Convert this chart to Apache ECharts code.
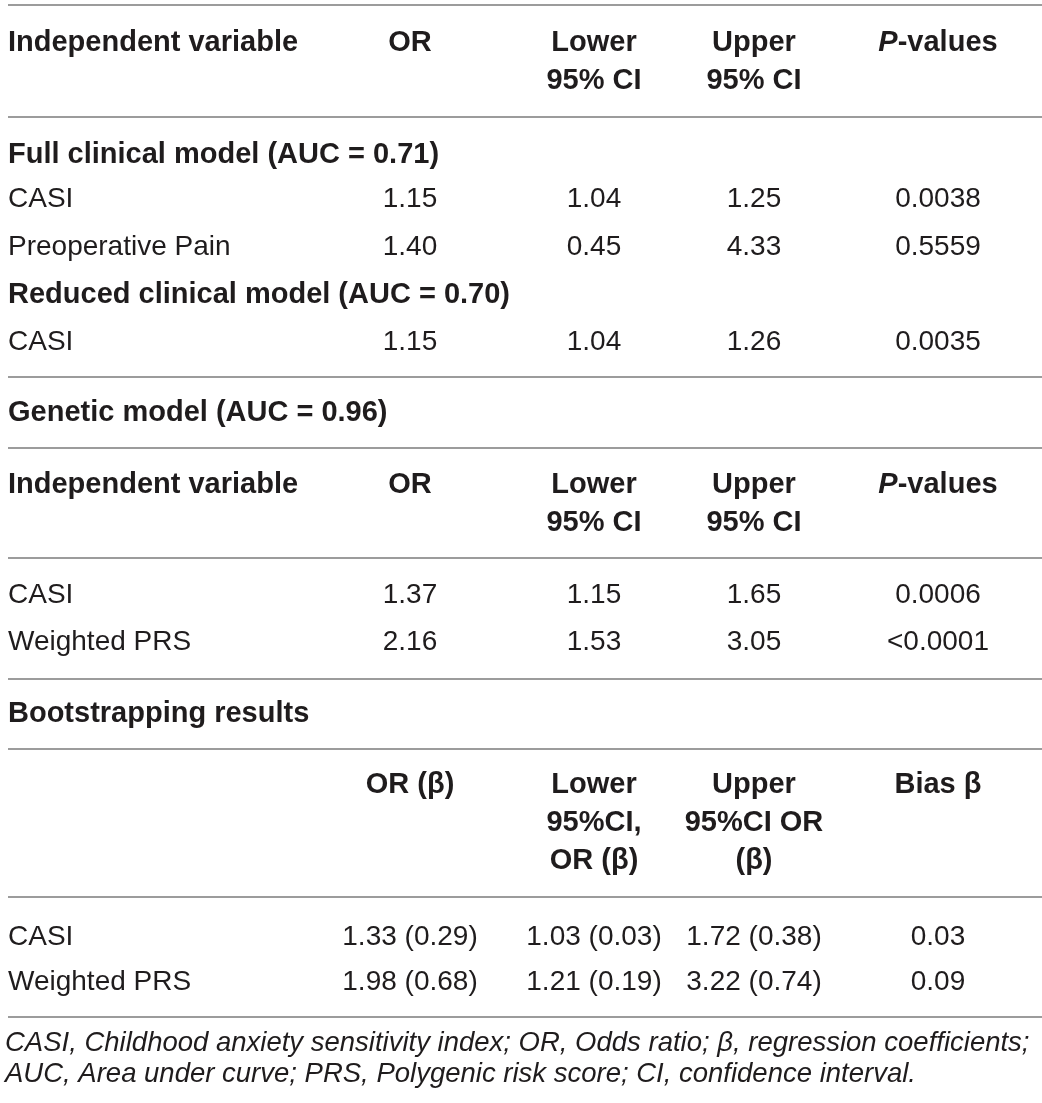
<!DOCTYPE html>
<html>
<head>
<meta charset="utf-8">
<script src="https://cdn.jsdelivr.net/npm/echarts@6/dist/echarts.min.js"></script>
<style>
  html, body { margin: 0; padding: 0; background: #fff; }
  #main { width: 1042px; height: 1103px; }
</style>
</head>
<body>
<div id="main"></div>
<script>
// ---- table data ----
const headerCols = ['Independent variable', 'OR', 'Lower\n95% CI', 'Upper\n95% CI', '{pi|P}-values'];

const fullTitle = 'Full clinical model (AUC = 0.71)';
const fullVars = ['CASI', 'Preoperative Pain'];
const fullOR = [1.15, 1.40];
const fullLower = [1.04, 0.45];
const fullUpper = [1.25, 4.33];
const fullP = ['0.0038', '0.5559'];

const reducedTitle = 'Reduced clinical model (AUC = 0.70)';
const reducedVars = ['CASI'];
const reducedOR = [1.15];
const reducedLower = [1.04];
const reducedUpper = [1.26];
const reducedP = ['0.0035'];

const geneticTitle = 'Genetic model (AUC = 0.96)';
const geneticVars = ['CASI', 'Weighted PRS'];
const geneticOR = [1.37, 2.16];
const geneticLower = [1.15, 1.53];
const geneticUpper = [1.65, 3.05];
const geneticP = ['0.0006', '<0.0001'];

const bootTitle = 'Bootstrapping results';
const bootHeader = ['', 'OR (β)', 'Lower\n95%CI,\nOR (β)', 'Upper\n95%CI OR\n(β)', 'Bias β'];
const bootVars = ['CASI', 'Weighted PRS'];
const bootOR = [1.33, 1.98];
const bootORBeta = [0.29, 0.68];
const bootLower = [1.03, 1.21];
const bootLowerBeta = [0.03, 0.19];
const bootUpper = [1.72, 3.22];
const bootUpperBeta = [0.38, 0.74];
const bootBias = [0.03, 0.09];

const footnote = [
    'CASI, Childhood anxiety sensitivity index; OR, Odds ratio; β, regression coefficients;',
    'AUC, Area under curve; PRS, Polygenic risk score; CI, confidence interval.'
];

// ---- layout ----
const FONT = '"Liberation Sans", Arial, Helvetica, sans-serif';
const INK = '#1f1c1d';
const colX = [8, 410, 594, 754, 938];
const LINE_H = 38;

let cells = [];
let rules = [];

function addCell(col, y, text, kind) {
    cells.push({ x: colX[col], y: y, text: text, kind: kind, align: col === 0 ? 'left' : 'center' });
}
// header cells hang from the first line
function addHeader(cols, y) {
    cols.forEach((t, i) => {
        if (t) addCell(i, y, t, 'head');
    });
}
function addRow(y, name, vals) {
    addCell(0, y, name, 'body');
    vals.forEach((v, i) => addCell(i + 1, y, v, 'body'));
}
const f2 = v => v.toFixed(2);

rules.push(5);
addHeader(headerCols, 43);
rules.push(117);
addCell(0, 155, fullTitle, 'title');
fullVars.forEach((n, i) => addRow(199 + i * 48, n, [f2(fullOR[i]), f2(fullLower[i]), f2(fullUpper[i]), fullP[i]]));
addCell(0, 295, reducedTitle, 'title');
reducedVars.forEach((n, i) => addRow(342 + i * 48, n, [f2(reducedOR[i]), f2(reducedLower[i]), f2(reducedUpper[i]), reducedP[i]]));
rules.push(377);
addCell(0, 413, geneticTitle, 'title');
rules.push(448);
addHeader(headerCols, 485);
rules.push(558);
geneticVars.forEach((n, i) => addRow(595 + i * 47, n, [f2(geneticOR[i]), f2(geneticLower[i]), f2(geneticUpper[i]), geneticP[i]]));
rules.push(679);
addCell(0, 714, bootTitle, 'title');
rules.push(749);
addHeader(bootHeader, 785);
rules.push(897);
bootVars.forEach((n, i) => addRow(937 + i * 45, n, [
    f2(bootOR[i]) + ' (' + f2(bootORBeta[i]) + ')',
    f2(bootLower[i]) + ' (' + f2(bootLowerBeta[i]) + ')',
    f2(bootUpper[i]) + ' (' + f2(bootUpperBeta[i]) + ')',
    f2(bootBias[i])
]));
rules.push(1017);
footnote.forEach((t, i) => cells.push({ x: 5, y: 1043 + i * 31, text: t, kind: 'note', align: 'left' }));

const styles = {
    head: { fontSize: 29, fontWeight: 'bold' },
    title: { fontSize: 29, fontWeight: 'bold' },
    body: { fontSize: 28, fontWeight: 'normal' },
    note: { fontSize: 27.5, fontWeight: 'normal', fontStyle: 'italic' }
};

let chart = echarts.init(document.getElementById('main'));
chart.setOption({
    animation: false,
    grid: { left: 0, right: 0, top: 0, bottom: 0 },
    xAxis: { type: 'value', min: 0, max: 1042, show: false },
    yAxis: { type: 'value', min: 0, max: 1103, inverse: true, show: false },
    series: [
        {
            type: 'custom',
            data: rules.map(y => [0, y]),
            renderItem(params, api) {
                let p0 = api.coord([8, api.value(1)]);
                let p1 = api.coord([1042, api.value(1)]);
                return {
                    type: 'line',
                    shape: { x1: p0[0], y1: p0[1], x2: p1[0], y2: p1[1] },
                    style: { stroke: '#9c9c9c', lineWidth: 2 }
                };
            }
        },
        {
            type: 'custom',
            data: cells.map(c => [c.x, c.y]),
            renderItem(params, api) {
                let c = cells[params.dataIndex];
                let p = api.coord([api.value(0), api.value(1)]);
                let s = styles[c.kind];
                let isHead = c.kind === 'head';
                return {
                    type: 'text',
                    x: p[0],
                    y: isHead ? p[1] - LINE_H / 2 : p[1],
                    style: {
                        text: c.text,
                        fill: INK,
                        fontSize: s.fontSize,
                        fontWeight: s.fontWeight,
                        fontStyle: s.fontStyle || 'normal',
                        fontFamily: FONT,
                        align: c.align,
                        verticalAlign: isHead ? 'top' : 'middle',
                        lineHeight: LINE_H,
                        rich: {
                            pi: { fontStyle: 'italic', fontWeight: 'bold', fontSize: 29, fontFamily: FONT, fill: INK, lineHeight: LINE_H }
                        }
                    }
                };
            }
        }
    ]
});
</script>
</body>
</html>
